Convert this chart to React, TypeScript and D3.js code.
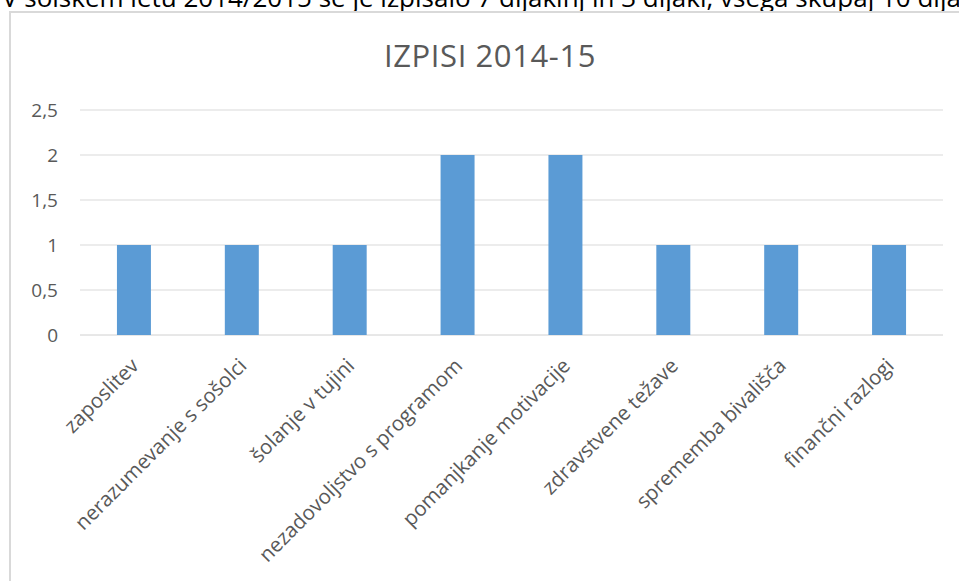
import React from "react";
import * as d3 from "d3";

const width = 959;
const height = 581;

// razlogi za izpis
const categories = [
  "zaposlitev",
  "nerazumevanje s sošolci",
  "šolanje v tujini",
  "nezadovoljstvo s programom",
  "pomanjkanje motivacije",
  "zdravstvene težave",
  "sprememba bivališča",
  "finančni razlogi",
];
const values = [1, 1, 1, 2, 2, 1, 1, 1];
const yTicks = [0, 0.5, 1, 1.5, 2, 2.5];

const chartTitle = "IZPISI 2014-15";
const introText =
  "V šolskem letu 2014/2015 se je izpisalo 7 dijakinj in 3 dijaki, vsega skupaj 10 dijakov.";

const plot = { left: 80, right: 943, top: 110, bottom: 335 };
const font = "'Open Sans', sans-serif";
const grey = "#595959";

const App = () => {
  const x = d3
    .scaleBand()
    .domain(categories)
    .range([plot.left, plot.right])
    .paddingInner(0.685)
    .paddingOuter(0.3425);

  const y = d3.scaleLinear().domain([0, 2.5]).range([plot.bottom, plot.top]);

  const fmt = (v: number) => String(v).replace(".", ",");

  return (
    <svg
      width={width}
      height={height}
      style={{ position: "absolute", left: 0, top: 0, background: "#fff" }}
    >
      {/* odrezan uvodni stavek nad grafom */}
      <text x={2} y={7} fontFamily={font} fontSize={26} fill="#000">
        {introText}
      </text>

      {/* okvir grafa */}
      <rect x={10} y={12} width={width + 20} height={height + 20} fill="#fff" stroke="#d9d9d9" strokeWidth={2} />

      <text
        x={490}
        y={67}
        textAnchor="middle"
        fontFamily={font}
        fontSize={31}
        letterSpacing={0.6}
        fill={grey}
      >
        {chartTitle}
      </text>

      {/* mreža in oznake osi y */}
      {yTicks.map((t) => (
        <g key={t}>
          <line
            x1={plot.left}
            x2={plot.right}
            y1={y(t)}
            y2={y(t)}
            stroke={t === 0 ? "#d0d0d0" : "#d9d9d9"}
            strokeWidth={1}
          />
          <text
            x={58}
            y={y(t)}
            dy="0.36em"
            textAnchor="end"
            fontFamily={font}
            fontSize={19}
            fill={grey}
          >
            {fmt(t)}
          </text>
        </g>
      ))}

      {categories.map((c, i) => (
        <rect
          key={c}
          x={x(c)}
          y={y(values[i])}
          width={x.bandwidth()}
          height={y(0) - y(values[i])}
          fill="#5b9bd5"
        />
      ))}

      {categories.map((c) => {
        const cx = (x(c) as number) + x.bandwidth() / 2 + 6;
        const cy = 367;
        return (
          <text
            key={c}
            transform={`translate(${cx},${cy}) rotate(-45)`}
            textAnchor="end"
            fontFamily={font}
            fontSize={20.5}
            fill={grey}
          >
            {c}
          </text>
        );
      })}
    </svg>
  );
};

export default App;
